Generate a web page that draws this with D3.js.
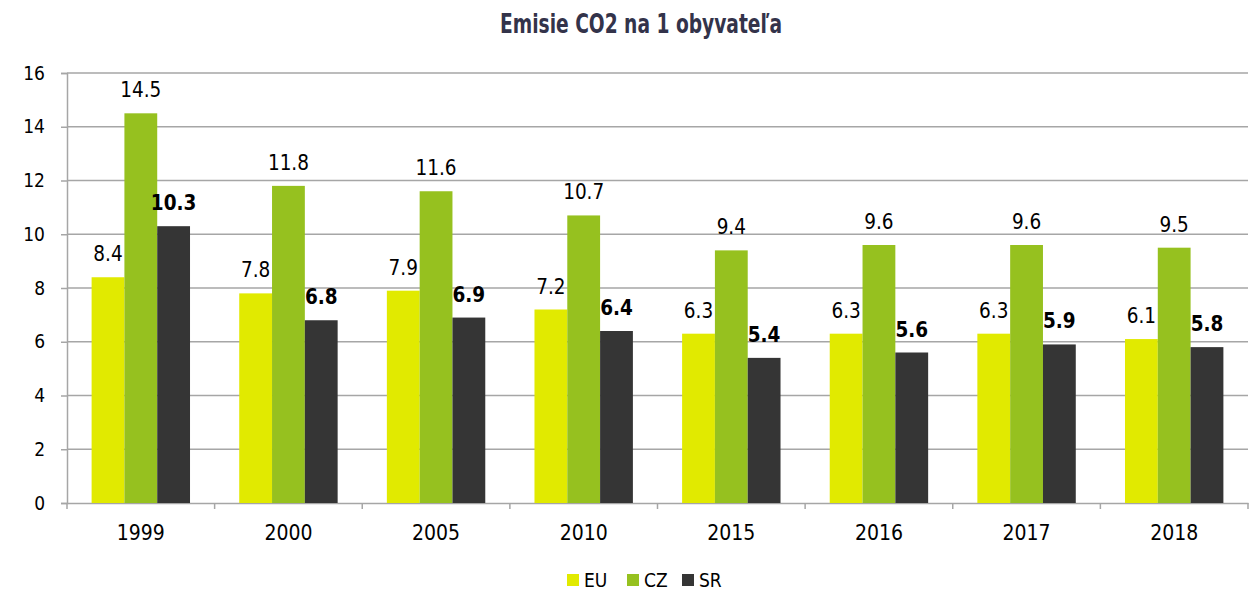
<html>
<head>
<script src="https://d3js.org/d3.v7.min.js"></script>
<style>
  body { margin: 0; background: #fff; }
  text { font-family: "DejaVu Sans Condensed", "DejaVu Sans", sans-serif; font-stretch: condensed; }
</style>
</head>
<body>
<svg id="chart" width="1258" height="593"></svg>
<script>
// data
const years = ["1999", "2000", "2005", "2010", "2015", "2016", "2017", "2018"];
const seriesNames = ["EU", "CZ", "SR"];
const euValues = [8.4, 7.8, 7.9, 7.2, 6.3, 6.3, 6.3, 6.1];
const czValues = [14.5, 11.8, 11.6, 10.7, 9.4, 9.6, 9.6, 9.5];
const srValues = [10.3, 6.8, 6.9, 6.4, 5.4, 5.6, 5.9, 5.8];
const yTicks = [0, 2, 4, 6, 8, 10, 12, 14, 16];

const colors = ["#e1ea00", "#96c11f", "#353535"];
const allValues = [euValues, czValues, srValues];
const fontFam = "'DejaVu Sans Condensed', 'DejaVu Sans', sans-serif";

const svg = d3.select("#chart");
const margin = { top: 73, right: 10, bottom: 90, left: 67 };
const width = 1258, height = 593;
const plotW = width - margin.left - margin.right;
const plotH = height - margin.top - margin.bottom;

const g = svg.append("g").attr("transform", `translate(${margin.left},${margin.top})`);

const x0 = d3.scaleBand().domain(years).range([0, plotW]).padding(0);
const barW = x0.bandwidth() / 4.5;
const x1 = d3.scaleBand().domain(seriesNames).range([-1.5 * barW, 1.5 * barW]);
const y = d3.scaleLinear().domain([0, 16]).range([plotH, 0]);

// title
svg.append("text")
  .attr("x", 641).attr("y", 33)
  .attr("text-anchor", "middle")
  .attr("font-size", 27).attr("font-weight", "bold")
  .attr("textLength", 282).attr("lengthAdjust", "spacingAndGlyphs")
  .attr("fill", "#33334a")
  .text("Emisie CO2 na 1 obyvateľa");

// grid lines
g.selectAll("line.grid").data(yTicks.filter(d => d > 0))
  .join("line")
  .attr("class", "grid")
  .attr("x1", 0).attr("x2", plotW)
  .attr("y1", d => y(d)).attr("y2", d => y(d))
  .attr("stroke", "#a6a6a6").attr("stroke-width", 1.5);

// y axis
const leftAxis = d3.axisLeft(y).tickValues(yTicks).tickSize(6).tickPadding(16).tickFormat(d3.format("d"));
const ya = g.append("g").call(leftAxis);
ya.select(".domain").attr("stroke", "#a6a6a6").attr("stroke-width", 1.5);
ya.selectAll(".tick line").attr("stroke", "#a6a6a6").attr("stroke-width", 1.5);
ya.selectAll(".tick text").attr("font-size", 19).attr("fill", "#000").style("font-family", fontFam);

// x axis
const bottomAxis = d3.axisBottom(x0).tickSize(0).tickPadding(22);
const xa = g.append("g").attr("transform", `translate(0,${plotH})`).call(bottomAxis);
xa.select(".domain").attr("stroke", "#a6a6a6").attr("stroke-width", 1.5);
xa.selectAll(".tick text").attr("font-size", 21).attr("fill", "#000").style("font-family", fontFam);
g.selectAll("line.xtick").data(years.concat(["end"]))
  .join("line")
  .attr("class", "xtick")
  .attr("x1", (d, i) => i * x0.step()).attr("x2", (d, i) => i * x0.step())
  .attr("y1", plotH).attr("y2", plotH + 6)
  .attr("stroke", "#a6a6a6").attr("stroke-width", 1.5);

// bars
seriesNames.forEach((s, si) => {
  const vals = allValues[si];
  const grp = g.append("g");
  grp.selectAll("rect").data(vals)
    .join("rect")
    .attr("x", (d, i) => x0(years[i]) + x0.bandwidth() / 2 + x1(s))
    .attr("width", x1.bandwidth())
    .attr("y", d => y(d))
    .attr("height", d => plotH - y(d))
    .attr("fill", colors[si]);
  grp.selectAll("text").data(vals)
    .join("text")
    .attr("x", (d, i) => x0(years[i]) + x0.bandwidth() / 2 + x1(s) + x1.bandwidth() / 2)
    .attr("y", d => y(d) - 16)
    .attr("text-anchor", "middle")
    .attr("font-size", 20.5)
    .attr("font-weight", s === "SR" ? "bold" : "normal")
    .attr("fill", "#000")
    .text(d => d.toFixed(1));
});

// legend
const legendX = [567, 627, 682];
seriesNames.forEach((s, i) => {
  svg.append("rect")
    .attr("x", legendX[i]).attr("y", 574)
    .attr("width", 12).attr("height", 12)
    .attr("fill", colors[i]);
  svg.append("text")
    .attr("x", legendX[i] + 17).attr("y", 587)
    .attr("font-size", 19).attr("fill", "#000")
    .text(s);
});
</script>
</body>
</html>
